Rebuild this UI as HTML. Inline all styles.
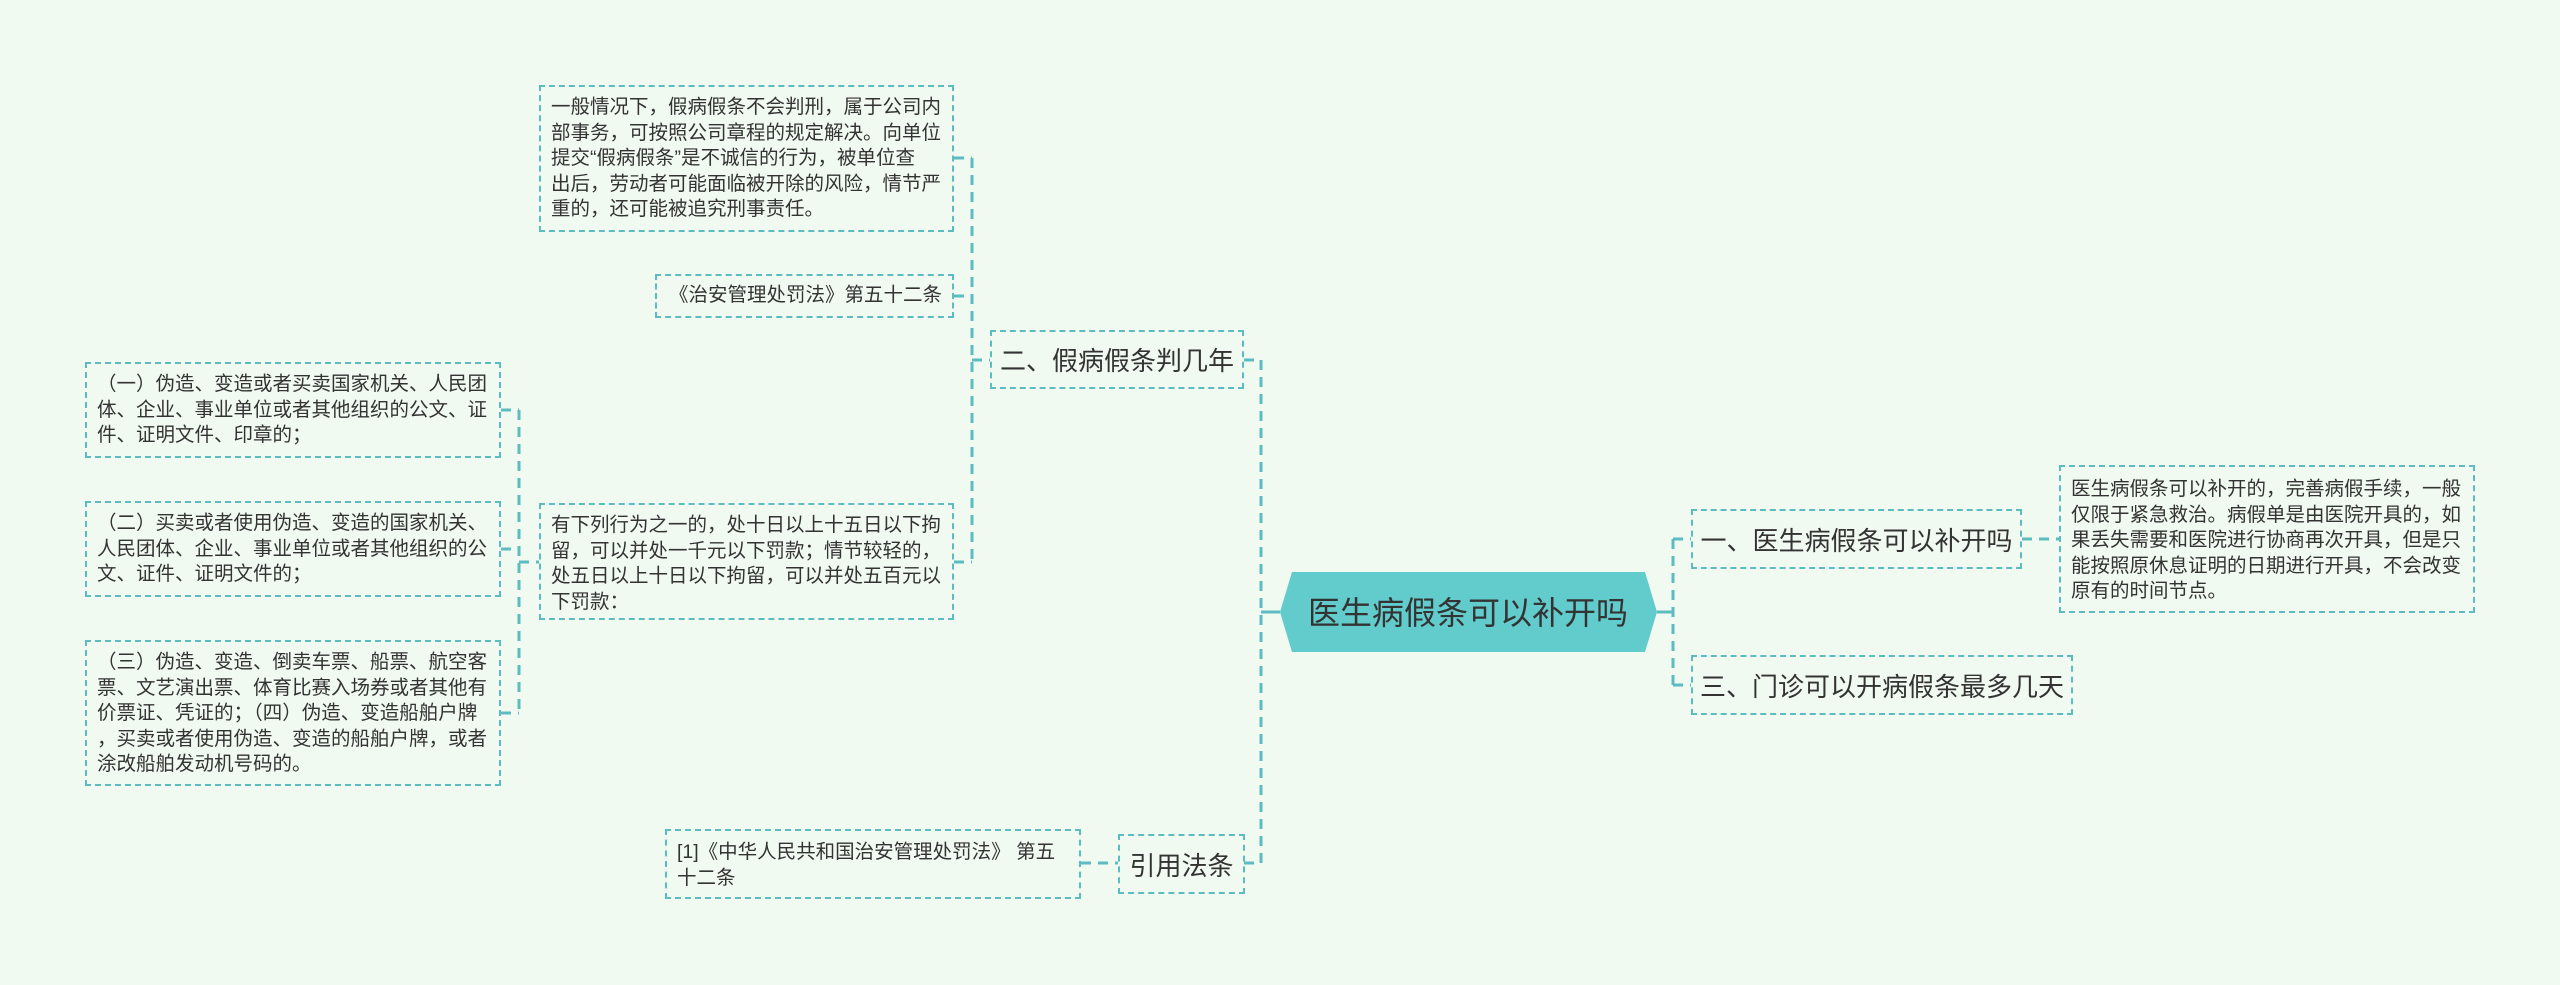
<!DOCTYPE html>
<html><head><meta charset="utf-8"><style>
html,body{margin:0;padding:0}
body{width:2560px;height:985px;background:#f0faf0;position:relative;overflow:hidden;font-family:"Liberation Sans","Noto Sans CJK SC",sans-serif;color:#333}
.b{position:absolute;box-sizing:border-box;border:2px dashed #5cbcc2;font-size:19.5px;line-height:25.5px;padding:8px 10px;white-space:nowrap}
.n{position:absolute;box-sizing:border-box;border:2px dashed #5cbcc2;font-size:26px;display:flex;align-items:center;justify-content:center;white-space:nowrap}
svg{position:absolute;left:0;top:0}
</style></head><body>
<svg width="2560" height="985">
<g stroke="#5cbcc2" stroke-width="3" fill="none" stroke-dasharray="10,7">
<path d="M1261 360 V863"/>
<path d="M1244 360 H1261"/>
<path d="M1244 863 H1261"/>
<path d="M1081 863 H1118"/>
<path d="M972 158 V562"/>
<path d="M954 158 H972"/>
<path d="M954 296 H972"/>
<path d="M954 562 H972"/>
<path d="M972 360 H990"/>
<path d="M519 410 V713"/>
<path d="M501 410 H519"/>
<path d="M501 549 H519"/>
<path d="M501 713 H519"/>
<path d="M519 562 H539"/>
<path d="M1673 539 V685"/>
<path d="M1673 539 H1691"/>
<path d="M1673 685 H1691"/>
<path d="M2022 539 H2059"/>
</g>
<g stroke="#5cbcc2" stroke-width="3">
<path d="M1261 612 H1280"/>
<path d="M1657 612 H1673"/>
</g>
<polygon points="1280,612 1292,572 1645,572 1657,612 1645,652 1292,652" fill="#62cbcc"/>
<text x="1468" y="624" font-size="32" text-anchor="middle" fill="#333" font-family="Liberation Sans, Noto Sans CJK SC, sans-serif">医生病假条可以补开吗</text>
</svg>

<div class="b" style="left:539px;top:85px;width:415px;height:147px">一般情况下，假病假条不会判刑，属于公司内<br>部事务，可按照公司章程的规定解决。向单位<br>提交“假病假条”是不诚信的行为，被单位查<br>出后，劳动者可能面临被开除的风险，情节严<br>重的，还可能被追究刑事责任。</div>
<div class="b" style="left:655px;top:274px;width:299px;height:44px;padding-top:7px;text-align:right">《治安管理处罚法》第五十二条</div>
<div class="n" style="left:990px;top:330px;width:254px;height:59px">二、假病假条判几年</div>
<div class="b" style="left:539px;top:503px;width:415px;height:117px">有下列行为之一的，处十日以上十五日以下拘<br>留，可以并处一千元以下罚款；情节较轻的，<br>处五日以上十日以下拘留，可以并处五百元以<br>下罚款：</div>
<div class="b" style="left:85px;top:362px;width:416px;height:96px">（一）伪造、变造或者买卖国家机关、人民团<br>体、企业、事业单位或者其他组织的公文、证<br>件、证明文件、印章的；</div>
<div class="b" style="left:85px;top:501px;width:416px;height:96px">（二）买卖或者使用伪造、变造的国家机关、<br>人民团体、企业、事业单位或者其他组织的公<br>文、证件、证明文件的；</div>
<div class="b" style="left:85px;top:640px;width:416px;height:146px">（三）伪造、变造、倒卖车票、船票、航空客<br>票、文艺演出票、体育比赛入场券或者其他有<br>价票证、凭证的；（四）伪造、变造船舶户牌<br>，买卖或者使用伪造、变造的船舶户牌，或者<br>涂改船舶发动机号码的。</div>
<div class="n" style="left:1118px;top:834px;width:127px;height:60px">引用法条</div>
<div class="b" style="left:665px;top:829px;width:416px;height:70px;padding-top:9px">[1]《中华人民共和国治安管理处罚法》 第五<br>十二条</div>
<div class="n" style="left:1691px;top:509px;width:331px;height:60px">一、医生病假条可以补开吗</div>
<div class="n" style="left:1691px;top:655px;width:382px;height:60px">三、门诊可以开病假条最多几天</div>
<div class="b" style="left:2059px;top:465px;width:416px;height:148px;padding-top:10px">医生病假条可以补开的，完善病假手续，一般<br>仅限于紧急救治。病假单是由医院开具的，如<br>果丢失需要和医院进行协商再次开具，但是只<br>能按照原休息证明的日期进行开具，不会改变<br>原有的时间节点。</div>
</body></html>
